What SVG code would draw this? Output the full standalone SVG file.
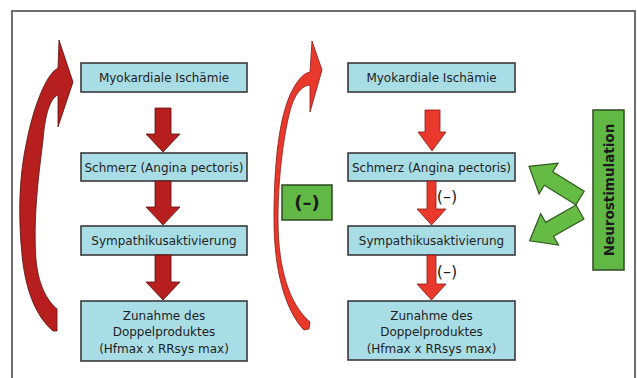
<svg xmlns="http://www.w3.org/2000/svg" width="637" height="378" viewBox="0 0 637 378">
<style>
.box{fill:#a9dde6;stroke:#3a3a3a;stroke-width:1.6}
.t{font-family:"DejaVu Sans",Verdana,sans-serif;font-size:12px;fill:#1e1e1e;text-anchor:middle}
.darr{fill:#b71f1f;stroke:#5a1010;stroke-width:0.8}
.larr{fill:#e8392c;stroke:#8a1a14;stroke-width:0.8}
.garr{fill:#66bb44;stroke:#2f5a1e;stroke-width:1.2}
.gbox{fill:#62b845;stroke:#2f4a22;stroke-width:1.5}
.neg{font-family:"DejaVu Sans",Verdana,sans-serif;font-size:16px;fill:#1e1e1e;text-anchor:middle}
</style>
<rect width="637" height="378" fill="#ffffff"/>
<path d="M12,378 V11 H635 V378" fill="none" stroke="#6e6e6e" stroke-width="2"/>

<g id="left-column">
<g id="l1"><rect class="box" x="81" y="63" width="166" height="29"/><text class="t" x="164" y="82">Myokardiale Ischämie</text></g>
<g id="l2"><rect class="box" x="81" y="153" width="166" height="28"/><text class="t" x="164" y="171.5">Schmerz (Angina pectoris)</text></g>
<g id="l3"><rect class="box" x="81" y="226" width="166" height="29"/><text class="t" x="164" y="245">Sympathikusaktivierung</text></g>
<g id="l4"><rect class="box" x="81" y="301" width="166" height="60"/><text class="t" x="164" y="319.5">Zunahme des</text><text class="t" x="164" y="336">Doppelproduktes</text><text class="t" x="164" y="352.5">(Hfmax x RRsys max)</text></g>
</g>

<g id="right-column">
<g id="r1"><rect class="box" x="348" y="63" width="167" height="29"/><text class="t" x="431.5" y="82">Myokardiale Ischämie</text></g>
<g id="r2"><rect class="box" x="348" y="153" width="167" height="28"/><text class="t" x="431.5" y="171.5">Schmerz (Angina pectoris)</text></g>
<g id="r3"><rect class="box" x="348" y="226" width="167" height="29"/><text class="t" x="431.5" y="245">Sympathikusaktivierung</text></g>
<g id="r4"><rect class="box" x="348" y="301" width="167" height="59"/><text class="t" x="431.5" y="319.5">Zunahme des</text><text class="t" x="431.5" y="336">Doppelproduktes</text><text class="t" x="431.5" y="352.5">(Hfmax x RRsys max)</text></g>
</g>

<g id="minus-box"><rect class="gbox" x="282" y="185" width="50" height="35"/><text x="307" y="209" font-family="DejaVu Sans,Verdana,sans-serif" font-size="18" font-weight="bold" fill="#1a1a1a" text-anchor="middle">(–)</text></g>

<g id="neurostimulation"><rect class="gbox" x="593" y="110" width="31" height="160"/><text transform="translate(613.5,190) rotate(-90)" x="0" y="0" font-family="DejaVu Sans,Verdana,sans-serif" font-size="13.5" font-weight="bold" fill="#1a1a1a" text-anchor="middle">Neurostimulation</text></g>

<g id="connectors">
<path class="darr" d="M59,40 L73,82 L58,127 L58,95 C50,98 45,115 43,140 C38,180 33,220 36,260 C39,290 50,303 57,309 L57,331 L53,331 C38,318 26,295 22,255 C18,215 19,175 27,140 C33,110 45,75 58,68 Z"/>
<path class="larr" d="M312,41 L322,70 L310,112 L310,85 C300,86 293,97 289,115 C283,140 278,180 278,220 C278,270 290,305 310,322 L309,329 L304,330 C285,310 274,270 274,220 C274,175 277,125 290,95 C296,82 303,73 310,72 Z"/>

<polygon class="darr" points="155,108 171,108 171,134 180,134 163,152 146,134 155,134"/>
<polygon class="darr" points="155,181 171,181 171,207 180,207 163,225 146,207 155,207"/>
<polygon class="darr" points="155,255 171,255 171,282 180,282 163,300 146,282 155,282"/>

<polygon class="larr" points="425,110 440,110 440,132 446,132 432,151 418,132 425,132"/>
<polygon class="larr" points="427,181 436,181 436,209 446,209 431.5,225 417,209 427,209"/>
<polygon class="larr" points="427,255 436,255 436,284 446,284 431.5,300 417,284 427,284"/>

<polygon class="garr" transform="translate(580,198) rotate(211.8)" points="0,-8 37,-8 37,-18 60,0 37,18 37,8 0,8"/>
<polygon class="garr" transform="translate(580,212) rotate(150.3)" points="0,-8 35,-8 35,-18 58,0 35,18 35,8 0,8"/>

<text class="neg" x="447" y="202">(–)</text>
<text class="neg" x="447" y="277">(–)</text>
</g>
</svg>
